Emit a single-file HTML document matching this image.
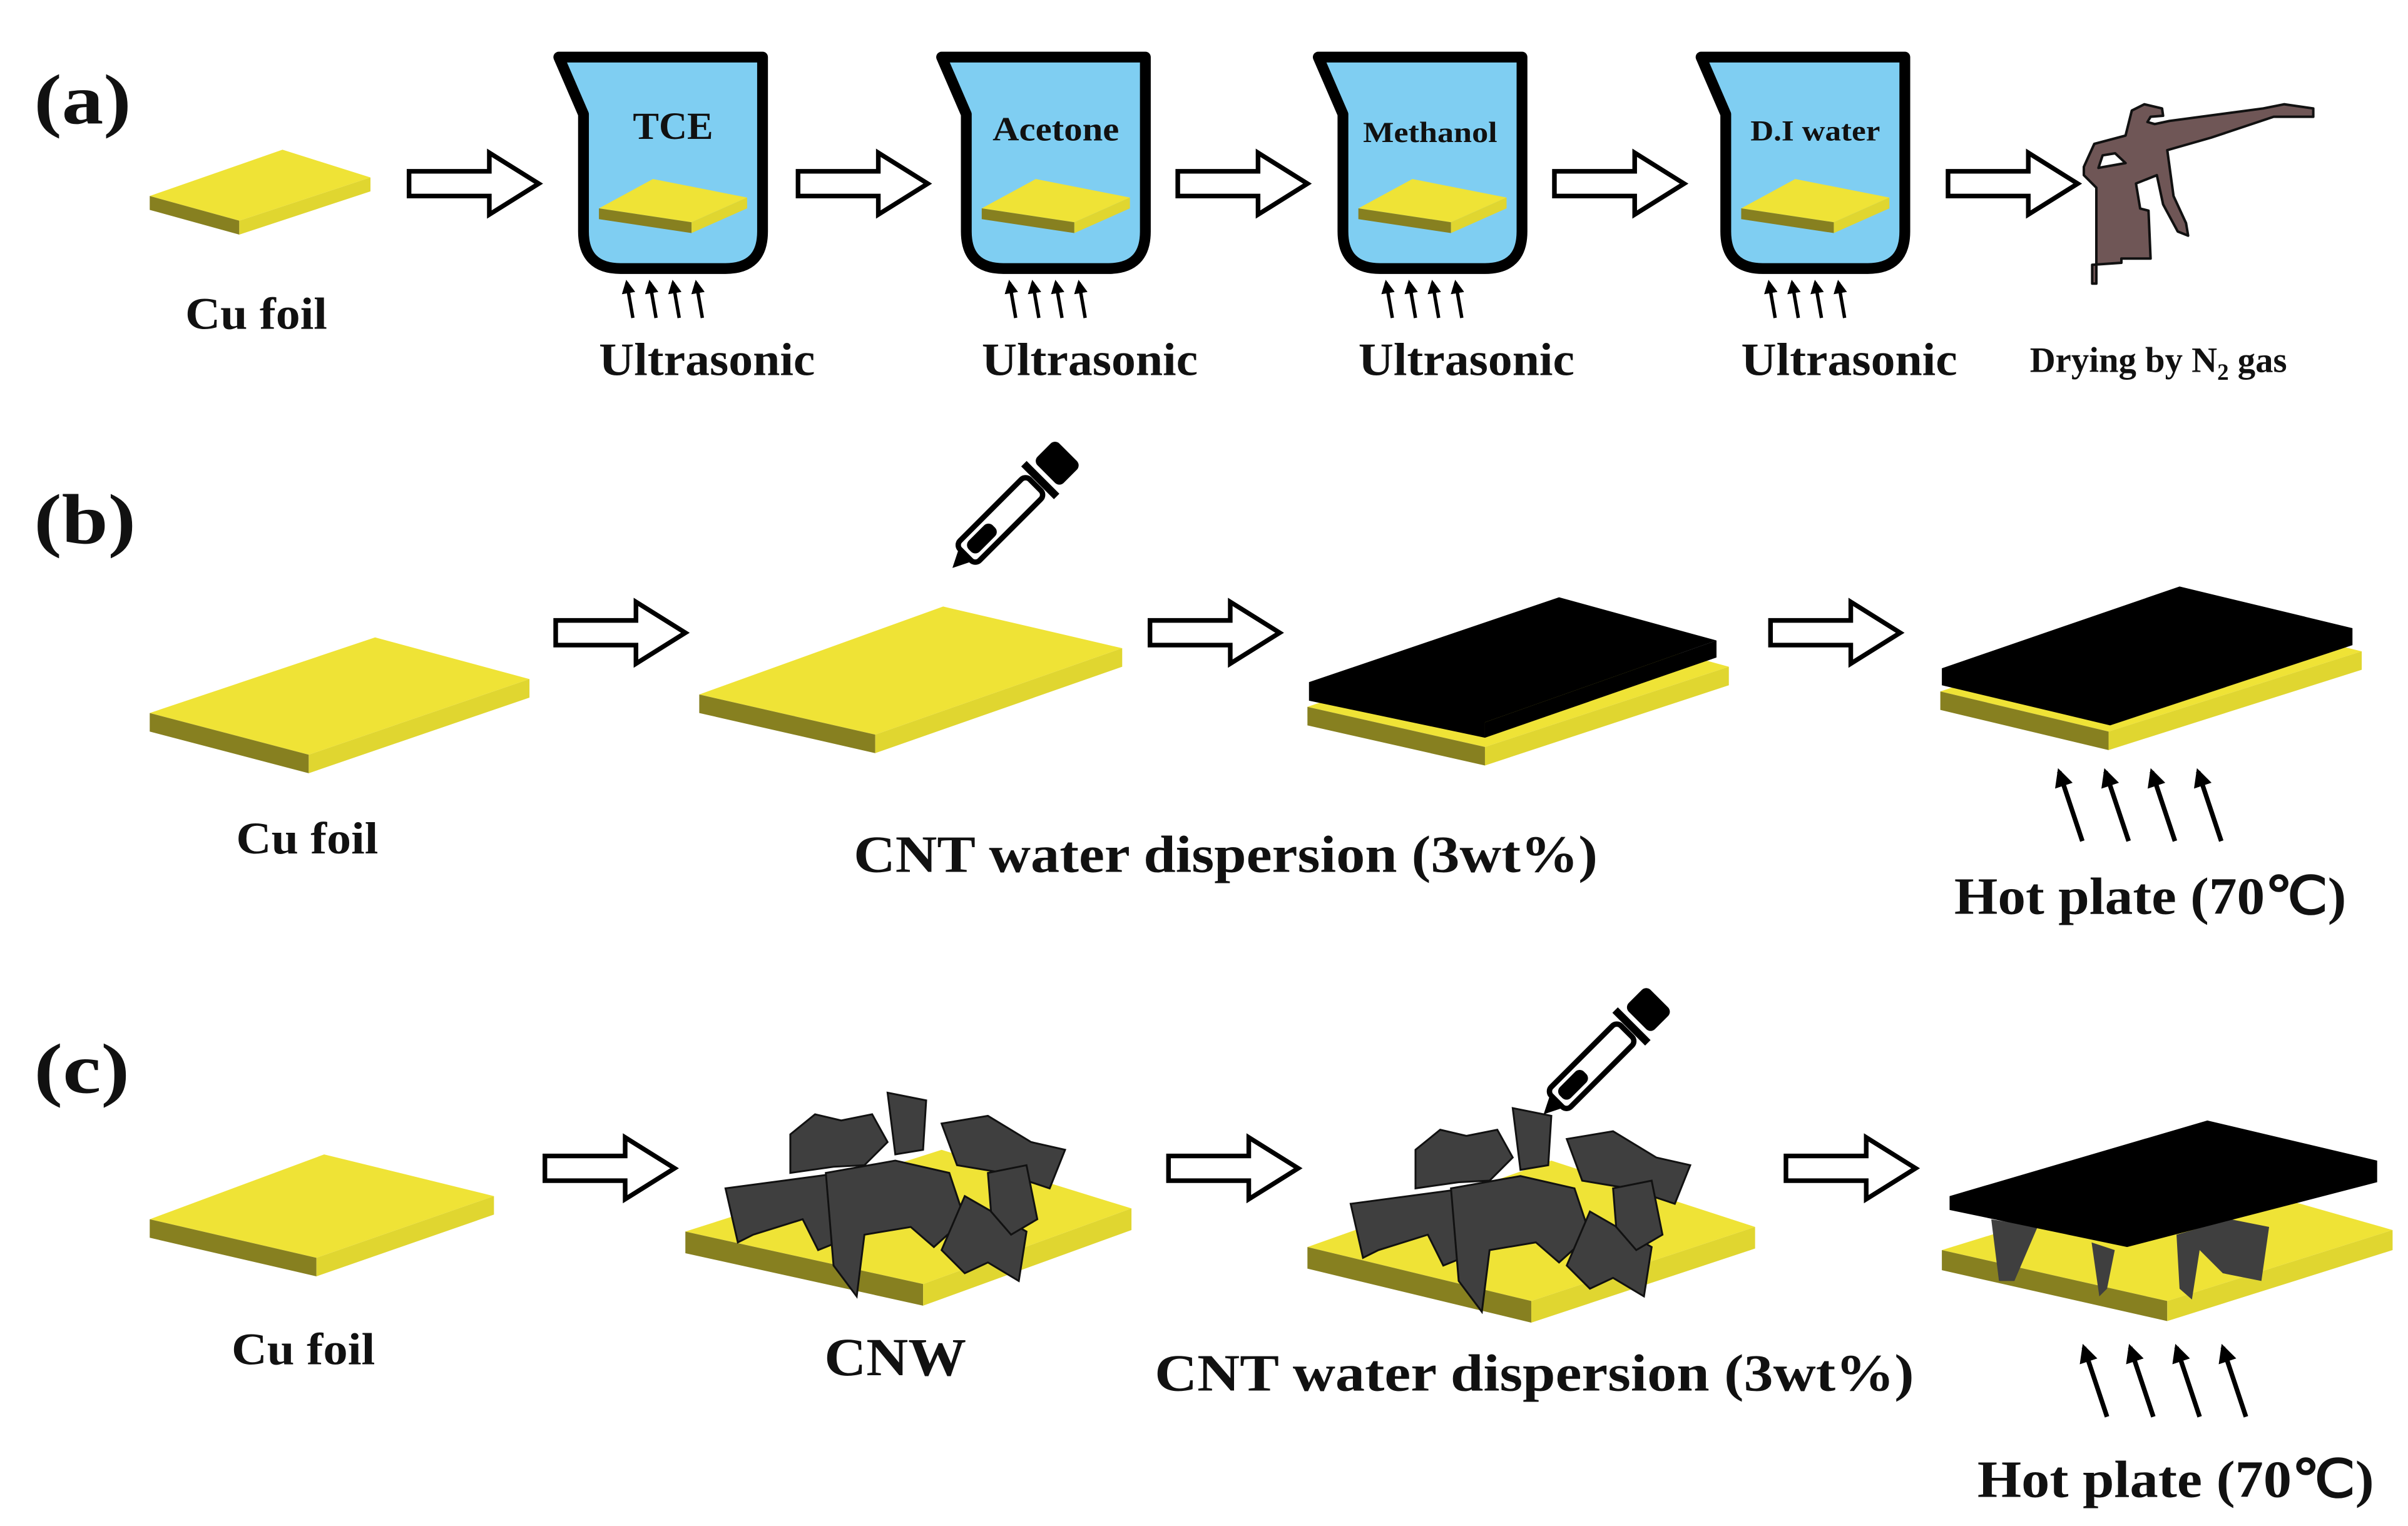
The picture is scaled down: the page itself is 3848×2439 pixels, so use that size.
<!DOCTYPE html>
<html><head><meta charset="utf-8"><style>
html,body{margin:0;padding:0;background:#fff;}
svg{display:block;}
text{font-family:"Liberation Serif",serif;font-weight:bold;fill:#111;}
</style></head><body>
<svg width="3848" height="2439" viewBox="0 0 3848 2439" xmlns="http://www.w3.org/2000/svg">
<defs>
<marker id="ah" viewBox="0 0 10 10" refX="8" refY="5" markerWidth="4" markerHeight="4" orient="auto"><path d="M0,0 L10,5 L0,10 Z" fill="#000"/></marker>
<g id="beaker">
<path d="M362,37 L494,37 L494,150 Q494,174 470,174 L402,174 Q378,174 378,150 L378,74 Z" fill="#7fcef2" stroke="#000" stroke-width="7" stroke-linejoin="round"/>
<polygon points="388,135 423,116 484,128 448,144" fill="#efe336"/>
<polygon points="388,135 448,144 448,151 388,142" fill="#878020"/>
<polygon points="448,144 484,128 484,135 448,151" fill="#e0d630"/>
<g stroke="#000" stroke-width="2.2" marker-end="url(#ah)">
<line x1="410" y1="206" x2="406" y2="183"/><line x1="425" y1="206" x2="421" y2="183"/><line x1="440" y1="206" x2="436" y2="183"/><line x1="455" y1="206" x2="451" y2="183"/>
</g>
<text x="388" y="243" font-size="30" textLength="140" lengthAdjust="spacingAndGlyphs">Ultrasonic</text>
</g>
<g id="dropper">
<polygon points="0,0 14,-7 14,7" fill="#000"/>
<rect x="12" y="-9" width="64" height="18" rx="4" fill="#fff" stroke="#000" stroke-width="3.5"/>
<rect x="16" y="-5" width="22" height="10" rx="4" fill="#000"/>
<rect x="78" y="-15" width="5" height="30" fill="#000"/>
<rect x="86" y="-12" width="20" height="24" rx="4" fill="#000"/>
</g>
<path id="harrow" d="M0,-8 L52,-8 L52,-20 L84,0 L52,20 L52,8 L0,8 Z" fill="#fff" stroke="#000" stroke-width="3"/>
</defs>
<g transform="scale(2.4667,2.4667)">
<text x="22" y="80" font-size="46" textLength="63" lengthAdjust="spacingAndGlyphs">(a)</text>
<text x="22" y="352" font-size="46" textLength="66" lengthAdjust="spacingAndGlyphs">(b)</text>
<text x="22" y="708" font-size="46" textLength="62" lengthAdjust="spacingAndGlyphs">(c)</text>

<!-- (a) -->
<polygon points="97,127 183,97 240,115 155,143" fill="#efe336"/>
<polygon points="97,127 155,143 155,152 97,136" fill="#878020"/>
<polygon points="155,143 240,115 240,124 155,152" fill="#e0d630"/>
<text x="120" y="213" font-size="29" textLength="92" lengthAdjust="spacingAndGlyphs">Cu foil</text>

<use href="#harrow" x="265" y="119"/>
<use href="#harrow" x="517" y="119"/>
<use href="#harrow" x="763" y="119"/>
<use href="#harrow" x="1007" y="119"/>
<use href="#harrow" x="1262" y="119"/>

<use href="#beaker"/>
<use href="#beaker" x="248"/>
<use href="#beaker" x="492"/>
<use href="#beaker" x="740"/>
<text x="410" y="90" font-size="25" textLength="52" lengthAdjust="spacingAndGlyphs">TCE</text>
<text x="643" y="91" font-size="22" textLength="82" lengthAdjust="spacingAndGlyphs">Acetone</text>
<text x="883" y="92" font-size="19" textLength="87" lengthAdjust="spacingAndGlyphs">Methanol</text>
<text x="1134" y="91" font-size="19" textLength="84" lengthAdjust="spacingAndGlyphs">D.I water</text>

<text x="1315" y="241" font-size="23">Drying by N<tspan font-size="15" dy="5">2</tspan><tspan dy="-5"> gas</tspan></text>

<!-- (b) -->
<polygon points="97,462 243,413 343,440 200,489" fill="#efe336"/>
<polygon points="97,462 200,489 200,501 97,474" fill="#878020"/>
<polygon points="200,489 343,440 343,452 200,501" fill="#e0d630"/>
<text x="153" y="553" font-size="29" textLength="92" lengthAdjust="spacingAndGlyphs">Cu foil</text>

<use href="#harrow" x="360" y="410"/>
<polygon points="453,450 611,393 727,420 567,476" fill="#efe336"/>
<polygon points="453,450 567,476 567,488 453,462" fill="#878020"/>
<polygon points="567,476 727,420 727,432 567,488" fill="#e0d630"/>
<use href="#dropper" transform="translate(617,368) rotate(-45)"/>
<text x="553" y="565" font-size="34" textLength="482" lengthAdjust="spacingAndGlyphs">CNT water dispersion (3wt%)</text>

<use href="#harrow" x="745" y="410"/>
<polygon points="847,458 1010,402 1120,432 962,484" fill="#efe336"/>
<polygon points="847,458 962,484 962,496 847,470" fill="#878020"/>
<polygon points="962,484 1120,432 1120,444 962,496" fill="#e0d630"/>
<polygon points="848,442 1010,387 1112,415 962,468 962,478 848,454" fill="#000"/>
<polygon points="962,468 1112,415 1112,426 962,478" fill="#000"/>

<use href="#harrow" x="1147" y="410"/>
<polygon points="1257,448 1418,395 1530,422 1366,474" fill="#efe336"/>
<polygon points="1257,448 1366,474 1366,486 1257,460" fill="#878020"/>
<polygon points="1366,474 1530,422 1530,434 1366,486" fill="#e0d630"/>
<polygon points="1258,433 1412,380 1524,407 1524,418 1367,470 1258,444" fill="#000"/>
<g stroke="#000" stroke-width="3" marker-end="url(#ah)">
<line x1="1349" y1="545" x2="1334" y2="500"/><line x1="1379" y1="545" x2="1364" y2="500"/><line x1="1409" y1="545" x2="1394" y2="500"/><line x1="1439" y1="545" x2="1424" y2="500"/>
</g>
<text x="1266" y="592" font-size="34" textLength="254" lengthAdjust="spacingAndGlyphs">Hot plate (70℃)</text>

<!-- (c) -->
<polygon points="97,790 210,748 320,775 205,815" fill="#efe336"/>
<polygon points="97,790 205,815 205,827 97,802" fill="#878020"/>
<polygon points="205,815 320,775 320,787 205,827" fill="#e0d630"/>
<text x="150" y="884" font-size="29" textLength="93" lengthAdjust="spacingAndGlyphs">Cu foil</text>

<use href="#harrow" x="353" y="757"/>
<polygon points="444,798 610,745 733,783 598,832" fill="#efe336"/>
<polygon points="444,798 598,832 598,846 444,812" fill="#878020"/>
<polygon points="598,832 733,783 733,797 598,846" fill="#e0d630"/>
<g id="cnw" fill="#3f3f3f" stroke="#111" stroke-width="1.2">
<path d="M470,770 L545,760 L555,800 L530,810 L520,790 L488,800 L478,805 Z"/>
<path d="M512,735 L528,722 L545,726 L565,722 L575,740 L560,755 L540,756 L512,760 Z"/>
<path d="M575,708 L600,713 L598,745 L580,748 Z"/>
<path d="M610,728 L640,723 L668,740 L690,745 L680,770 L650,760 L620,755 Z"/>
<path d="M535,760 L580,752 L615,760 L625,790 L605,808 L590,795 L560,800 L555,840 L540,820 Z"/>
<path d="M625,775 L665,798 L660,830 L640,818 L625,825 L610,810 Z"/>
<path d="M640,760 L665,755 L672,790 L655,800 L642,785 Z"/>
</g>
<text x="534" y="891" font-size="35" textLength="92" lengthAdjust="spacingAndGlyphs">CNW</text>

<use href="#harrow" x="757" y="757"/>
<polygon points="847,808 1005,752 1137,795 992,843" fill="#efe336"/>
<polygon points="847,808 992,843 992,857 847,822" fill="#878020"/>
<polygon points="992,843 1137,795 1137,809 992,857" fill="#e0d630"/>
<use href="#cnw" transform="translate(405,10)"/>
<use href="#dropper" transform="translate(1000,722) rotate(-45)"/>
<text x="748" y="901" font-size="34" textLength="492" lengthAdjust="spacingAndGlyphs">CNT water dispersion (3wt%)</text>

<use href="#harrow" x="1157" y="757"/>
<polygon points="1258,810 1420,760 1550,797 1404,843" fill="#efe336"/>
<polygon points="1258,810 1404,843 1404,856 1258,823" fill="#878020"/>
<polygon points="1404,843 1550,797 1550,810 1404,856" fill="#e0d630"/>
<g fill="#3f3f3f">
<polygon points="1290,790 1320,795 1305,830 1295,830"/>
<polygon points="1355,805 1370,810 1365,835 1360,840"/>
<polygon points="1410,800 1445,790 1470,795 1465,830 1440,825 1425,810 1420,842 1412,835"/>
</g>
<polygon points="1263,775 1430,726 1540,752 1540,766 1378,808 1263,784" fill="#000"/>
<g stroke="#000" stroke-width="3" marker-end="url(#ah)">
<line x1="1365" y1="918" x2="1350" y2="873"/><line x1="1395" y1="918" x2="1380" y2="873"/><line x1="1425" y1="918" x2="1410" y2="873"/><line x1="1455" y1="918" x2="1440" y2="873"/>
</g>
<text x="1281" y="970" font-size="34" textLength="257" lengthAdjust="spacingAndGlyphs">Hot plate (70℃)</text>
</g>

<!-- gun -->
<g transform="translate(3300,140) scale(0.3333)">
<path fill-rule="evenodd" fill="#6f5656" stroke="#111" stroke-width="12" stroke-linejoin="round" d="M130,940 L130,850 L270,840 L270,820 L410,820 L400,590 L360,580 L340,460 L440,420 L470,560 L540,690 L590,710 L580,650 L520,520 L490,300 L700,240 L1000,140 L1190,140 L1190,100 L1050,80 L950,100 L500,160 L430,175 L395,165 L410,140 L470,135 L465,100 L380,80 L320,110 L290,230 L140,270 L90,380 L90,420 L150,480 L150,940 Z M160,385 L180,325 L240,315 L290,362 Z"/>
</g>
</svg>
</body></html>
